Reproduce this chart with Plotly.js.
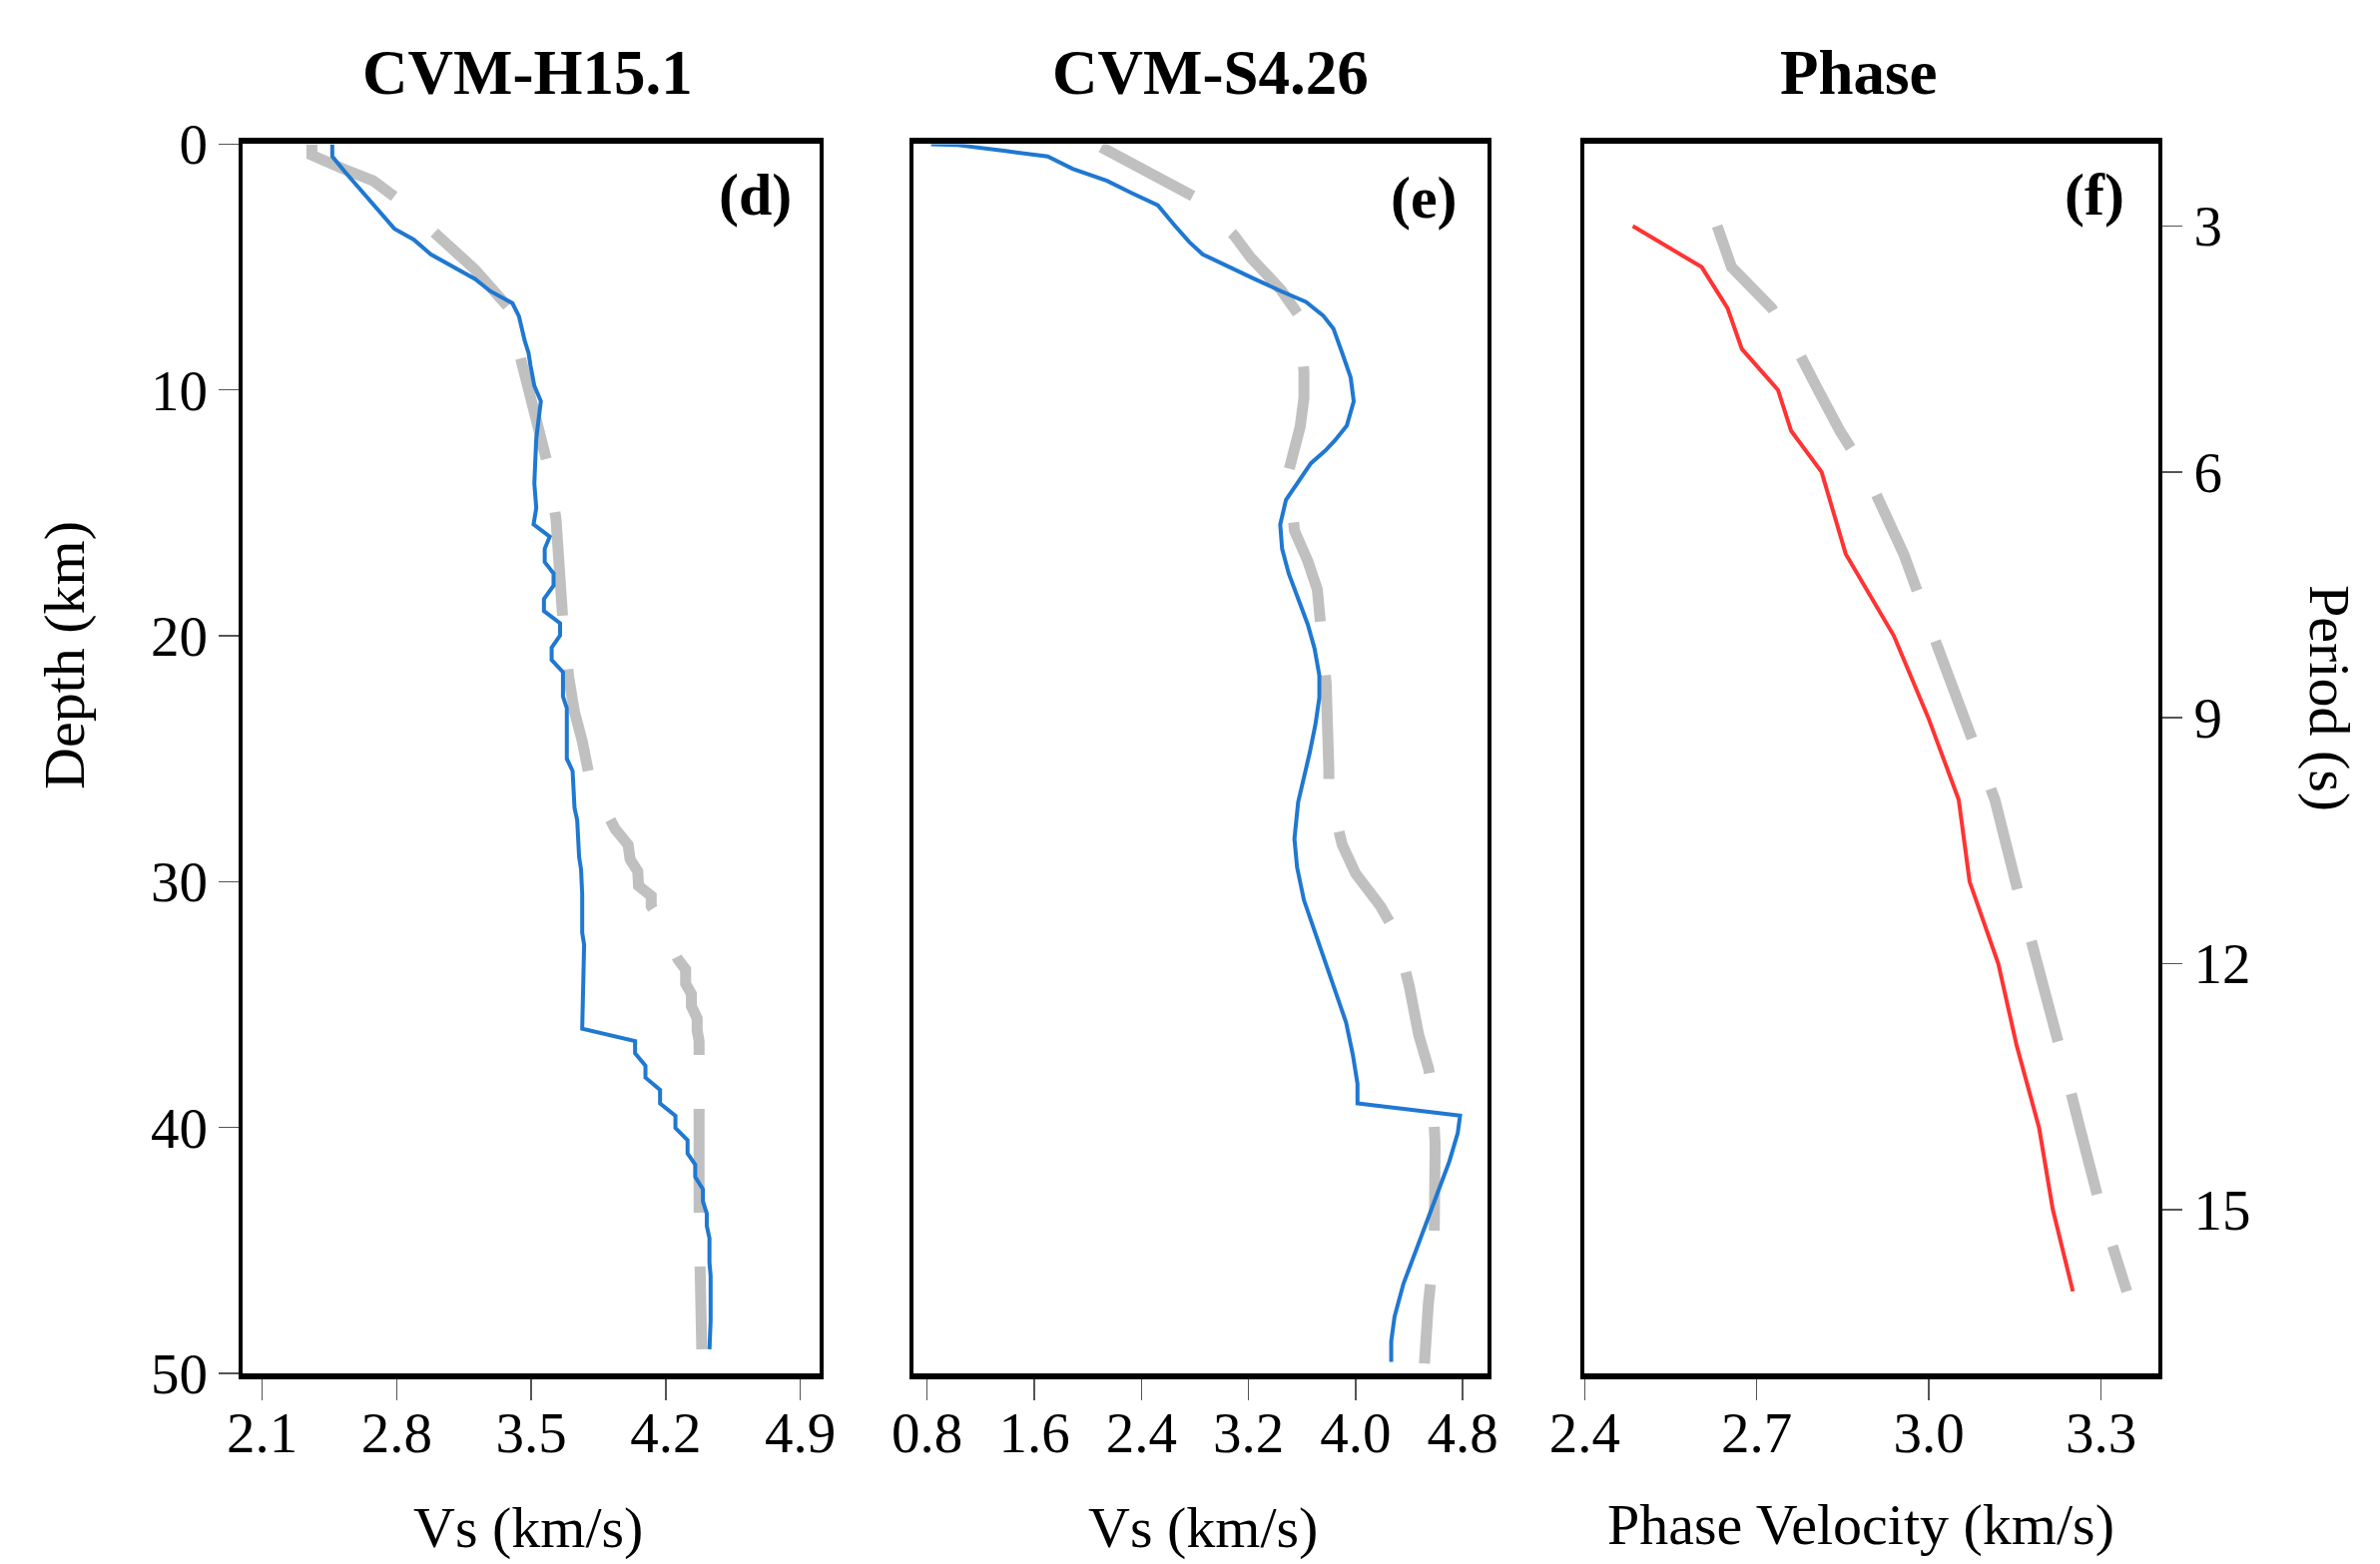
<!DOCTYPE html>
<html>
<head>
<meta charset="utf-8">
<script src="https://cdn.plot.ly/plotly-3.0.1.min.js"></script>
<style>html,body{margin:0;padding:0;background:#fff;}#chart{width:2384px;height:1567px;}</style>
</head>
<body>
<div id="chart"></div>
<script>
// ---------- DATA ----------
// Panel (d) CVM-H15.1 : blue profile
const hBlueDepth = [0,0.5,1.11,2.02,3.44,3.88,4.48,5.48,5.98,6.47,7.0,8.0,8.5,9.0,9.83,10.46,11.98,13.8,14.8,15.47,15.97,16.46,17.0,17.46,17.96,18.5,18.99,19.49,19.98,20.48,20.98,21.48,22.47,22.94,25.0,25.5,27.0,27.5,28.5,29.0,29.5,30.5,32.08,32.57,35.98,36.48,36.98,37.48,37.97,38.47,39.02,39.52,40.02,40.51,41.05,41.51,42.01,42.51,43.0,43.5,44.0,44.5,45.5,46.03,47.86,49.02];
const hBlueVs    = [2.465,2.465,2.529,2.628,2.788,2.888,2.977,3.207,3.287,3.402,3.436,3.466,3.486,3.496,3.516,3.550,3.526,3.516,3.526,3.512,3.596,3.570,3.570,3.616,3.616,3.566,3.566,3.650,3.650,3.606,3.606,3.665,3.665,3.685,3.685,3.715,3.725,3.739,3.745,3.749,3.759,3.765,3.765,3.775,3.765,4.040,4.040,4.094,4.094,4.170,4.170,4.250,4.250,4.313,4.313,4.353,4.353,4.393,4.393,4.413,4.413,4.427,4.427,4.433,4.433,4.427];
// Panel (d) gray dashed profile
const hGrayDepth = [0,0.45,1.03,1.49,2.19,3.65,5.1,6.59,8.91,10.66,13.06,15.27,17.3,19.45,21.69,23.1,24.27,25.39,25.85,27.84,28.5,29.09,29.58,30.17,30.58,31.0,31.25,33.16,33.57,34.15,34.57,35.07,35.56,36.06,36.48,37.23,39.42,41.21,43.7,45.95,49.02];
const hGrayVs    = [2.359,2.359,2.529,2.678,2.798,3.007,3.207,3.376,3.456,3.506,3.586,3.629,3.645,3.665,3.695,3.725,3.765,3.795,3.805,3.935,4.004,4.014,4.054,4.058,4.124,4.124,4.144,4.263,4.303,4.303,4.333,4.333,4.363,4.363,4.373,4.373,4.379,4.373,4.373,4.383,4.387];

// Panel (e) CVM-S4.26 : blue profile
const sBlueDepth = [0,0.03,0.28,0.5,1.0,1.49,1.99,2.49,3.27,3.98,4.48,4.98,5.48,5.98,6.42,6.97,7.5,8.5,9.49,10.46,11.45,12.07,12.48,12.98,13.64,14.47,15.47,16.46,17.46,18.54,19.54,20.53,21.61,22.52,23.6,24.76,25.43,26.76,28.26,29.42,30.75,31.91,33.24,34.57,35.73,37.06,38.22,39.02,39.52,40.22,41.38,43.04,44.87,46.36,47.69,48.69,49.53];
const sBlueVs    = [0.829,1.014,1.386,1.7,1.886,2.143,2.329,2.523,2.643,2.757,2.857,3.043,3.243,3.443,3.629,3.757,3.834,3.9,3.963,3.986,3.934,3.843,3.771,3.666,3.586,3.48,3.437,3.451,3.5,3.571,3.643,3.694,3.729,3.729,3.7,3.657,3.629,3.571,3.543,3.563,3.614,3.686,3.771,3.857,3.929,3.98,4.014,4.014,4.78,4.763,4.7,4.586,4.457,4.357,4.291,4.266,4.266];
// Panel (e) gray dashed profile
const sGrayDepth = [0.12,0.7,1.2,1.69,2.16,3.72,4.6,5.93,6.92,9.24,10.32,11.49,13.31,15.72,16.96,18.12,19.7,21.94,25.39,26.26,28.5,29.67,31.0,32.08,34.24,36.23,37.56,38.39,40.68,42.87,44.95,47.19,49.6];
const sGrayVs    = [2.1,2.3,2.443,2.643,2.8,3.094,3.214,3.443,3.571,3.614,3.614,3.586,3.5,3.543,3.643,3.714,3.743,3.78,3.8,3.8,3.9,4.0,4.186,4.3,4.4,4.471,4.543,4.571,4.594,4.6,4.586,4.543,4.514];

// Panel (f) Phase velocity dispersion
const periods      = [3,3.5,4,4.5,5,5.5,6,7,8,9,10,11,12,13,14,15,16];
const phaseRed     = [2.484,2.604,2.649,2.674,2.737,2.760,2.813,2.855,2.939,2.999,3.052,3.071,3.121,3.153,3.192,3.216,3.251];
const phaseGray    = [2.631,2.656,2.726,2.770,2.807,2.845,2.890,2.956,3.008,3.061,3.115,3.151,3.190,3.227,3.263,3.300,3.345];

// Tick labels
const depthTicks  = [0,10,20,30,40,50];
const vsTicksH    = [2.1,2.8,3.5,4.2,4.9];
const vsTicksS    = [0.8,1.6,2.4,3.2,4.0,4.8];
const phaseTicks  = [2.4,2.7,3.0,3.3];
const periodTicks = [3,6,9,12,15];

// ---------- LAYOUT ----------
const W = 2384, H = 1567;
const fx = p => p / W;
const fy = p => 1 - p / H;
const FONT = 'Liberation Serif, Times New Roman, serif';
const GRAY = '#c0c0c0', BLUE = '#1f78d1', RED = '#ff3333';
const DASH = '104px,54px';

const yDom = [fy(1376), fy(144.4)];

const traces = [
  {x: hGrayVs, y: hGrayDepth, xaxis: 'x', yaxis: 'y', mode: 'lines', line: {color: GRAY, width: 11, dash: DASH}},
  {x: hBlueVs, y: hBlueDepth, xaxis: 'x', yaxis: 'y', mode: 'lines', line: {color: BLUE, width: 4}},
  {x: sGrayVs, y: sGrayDepth, xaxis: 'x2', yaxis: 'y2', mode: 'lines', line: {color: GRAY, width: 11, dash: DASH}},
  {x: sBlueVs, y: sBlueDepth, xaxis: 'x2', yaxis: 'y2', mode: 'lines', line: {color: BLUE, width: 4}},
  {x: phaseGray, y: periods, xaxis: 'x3', yaxis: 'y3', mode: 'lines', line: {color: GRAY, width: 11, dash: DASH}},
  {x: phaseRed, y: periods, xaxis: 'x3', yaxis: 'y3', mode: 'lines', line: {color: RED, width: 4}}
];

const xCommon = {
  ticks: 'outside', ticklen: 21, tickwidth: 1.5, tickcolor: '#555',
  ticklabelstandoff: -16,
  showline: true, linewidth: 6, linecolor: '#000', mirror: true,
  showgrid: false, zeroline: false, tickfont: {family: FONT, size: 57, color: '#000'}
};
const yCommon = {
  showline: true, linewidth: 4, linecolor: '#000', mirror: true,
  showgrid: false, zeroline: false, tickfont: {family: FONT, size: 57, color: '#000'}
};
const fmt1 = v => v.toFixed(1);

const layout = {
  width: W, height: H,
  margin: {l: 0, r: 0, t: 0, b: 0},
  paper_bgcolor: '#fff', plot_bgcolor: '#fff',
  showlegend: false,
  font: {family: FONT, size: 57, color: '#000'},
  xaxis: Object.assign({}, xCommon, {domain: [fx(243.3), fx(821)], range: [2.0, 5.0], anchor: 'y',
    tickvals: vsTicksH, ticktext: vsTicksH.map(fmt1)}),
  yaxis: Object.assign({}, yCommon, {domain: yDom, range: [50, 0], anchor: 'x',
    ticks: 'outside', ticklen: 20, tickwidth: 1.5, tickcolor: '#555',
    tickvals: depthTicks, ticktext: depthTicks.map(String)}),
  xaxis2: Object.assign({}, xCommon, {domain: [fx(915.3), fx(1490)], range: [0.7, 4.985], anchor: 'y2',
    tickvals: vsTicksS, ticktext: vsTicksS.map(fmt1)}),
  yaxis2: Object.assign({}, yCommon, {domain: yDom, range: [50, 0], anchor: 'x2', ticks: '', showticklabels: false}),
  xaxis3: Object.assign({}, xCommon, {domain: [fx(1587.3), fx(2162)], range: [2.4, 3.4], anchor: 'y3',
    tickvals: phaseTicks, ticktext: phaseTicks.map(fmt1)}),
  yaxis3: Object.assign({}, yCommon, {domain: yDom, range: [17, 2], anchor: 'x3', side: 'right',
    ticks: 'outside', ticklen: 20, tickwidth: 1.5, tickcolor: '#555',
    tickvals: periodTicks, ticktext: periodTicks.map(String)}),
  annotations: [
    {text: '<b>CVM-H15.1</b>', x: fx(528), y: fy(73), font: {size: 63}},
    {text: '<b>CVM-S4.26</b>', x: fx(1212), y: fy(73), font: {size: 63}},
    {text: '<b>Phase</b>', x: fx(1862), y: fy(73), font: {size: 63}},
    {text: '<b>(d)</b>', x: fx(756), y: fy(195), font: {size: 60}},
    {text: '<b>(e)</b>', x: fx(1426), y: fy(198), font: {size: 60}},
    {text: '<b>(f)</b>', x: fx(2098), y: fy(195), font: {size: 60}},
    {text: 'Vs (km/s)', x: fx(529), y: fy(1530), font: {size: 58}},
    {text: 'Vs (km/s)', x: fx(1205), y: fy(1530), font: {size: 58}},
    {text: 'Phase Velocity (km/s)', x: fx(1864), y: fy(1527), font: {size: 58}},
    {text: 'Depth (km)', x: fx(64), y: fy(657), font: {size: 58}, textangle: -90},
    {text: 'Period (s)', x: fx(2334), y: fy(699), font: {size: 58}, textangle: 90}
  ].map(a => Object.assign({xref: 'paper', yref: 'paper', showarrow: false, borderpad: 0,
      xanchor: 'center', yanchor: 'middle'}, a, {font: Object.assign({family: FONT, color: '#000'}, a.font)}))
};

Plotly.newPlot('chart', traces, layout, {displayModeBar: false, staticPlot: true});
</script>
</body>
</html>
